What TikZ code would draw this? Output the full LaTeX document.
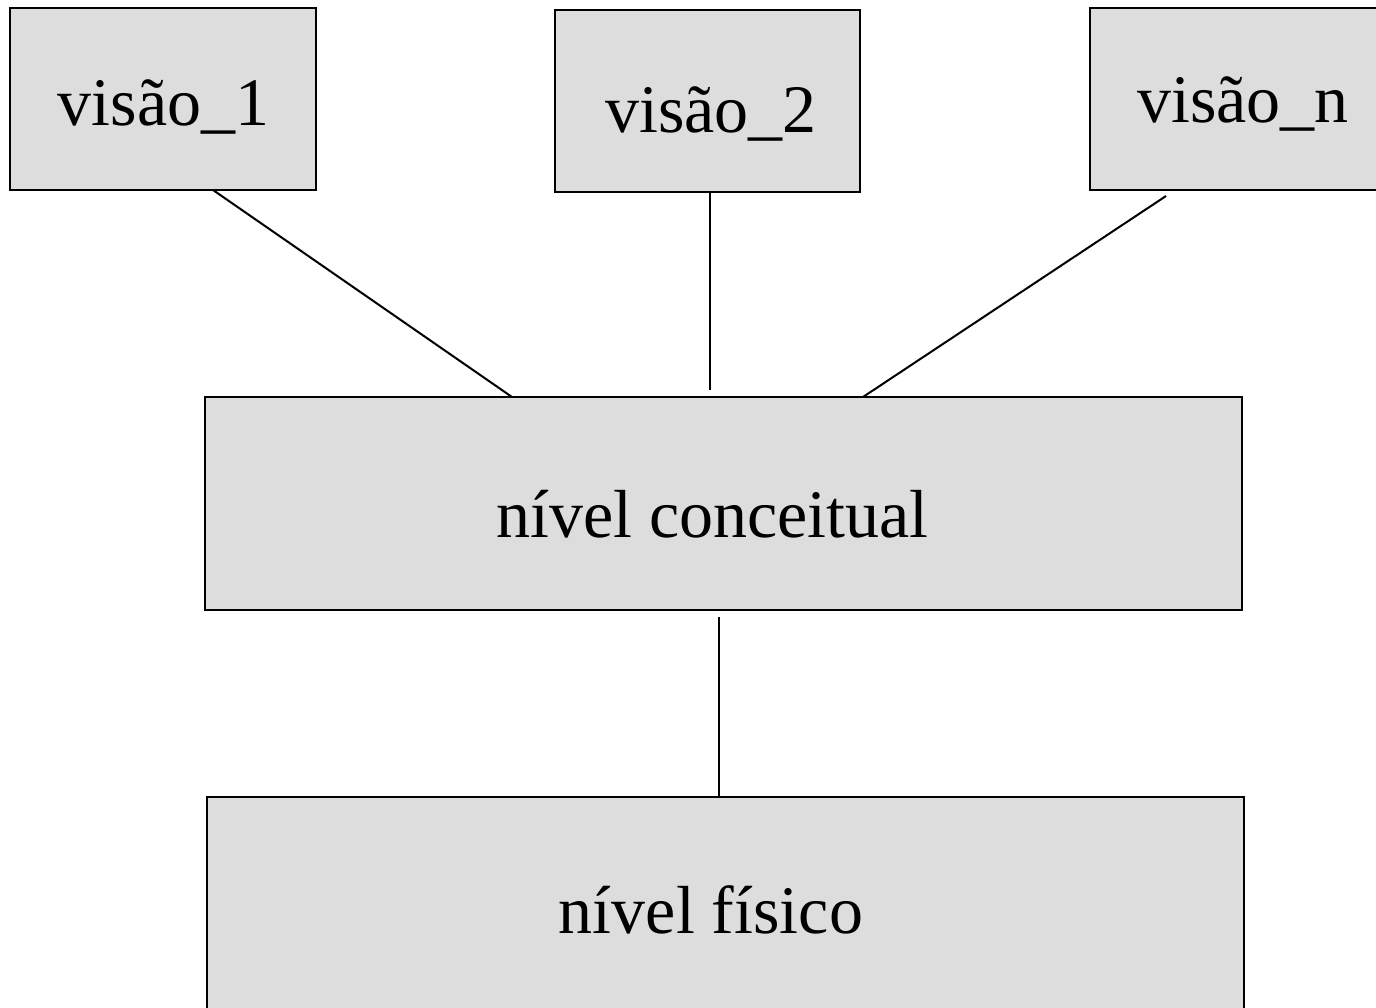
\documentclass[tikz,border=0pt]{standalone}
\usepackage{fontspec}
\setmainfont{Liberation Serif}
\definecolor{boxgray}{RGB}{221,221,221}
\begin{document}
\begin{tikzpicture}[x=1pt,y=-1pt,
  box/.style={draw=black,fill=boxgray,line width=2pt,rectangle,inner sep=0pt,outer sep=0pt},
  lbl/.style={anchor=base,inner sep=0pt,font=\fontsize{68}{72}\selectfont},
  conn/.style={line width=2pt}]
\useasboundingbox (0,0) rectangle (1376,1007);
\begin{scope}
\clip (0,0) rectangle (1376,1007);
\node[box,minimum width=306pt,minimum height=182pt] (v1) at (163,99) {};
\node[box,minimum width=305pt,minimum height=182pt] (v2) at (707.5,101) {};
\node[box,minimum width=306pt,minimum height=182pt] (vn) at (1243,99) {};
\node[box,minimum width=1037pt,minimum height=213pt] (nc) at (723.5,503.5) {};
\node[box,minimum width=1037pt,minimum height=213pt] (nf) at (725.5,903.5) {};
\end{scope}
\node[lbl] (t1) at (163.5,125) {visão\_1};
\node[lbl] (t2) at (711,132) {visão\_2};
\node[lbl] (tn) at (1243,122) {visão\_n};
\node[lbl] (tc) at (712.5,537) {nível conceitual};
\node[lbl] (tf) at (711,933) {nível físico};
\draw[conn] ([xshift=50pt]v1.south) -- ([xshift=-211.5pt]nc.north);
\draw[conn] ([xshift=2.5pt]v2.south) -- ([xshift=-13.5pt,yshift=7pt]nc.north);
\draw[conn] ([xshift=-77pt,yshift=-6pt]vn.south) -- ([xshift=139.5pt]nc.north);
\draw[conn] ([xshift=-4.5pt,yshift=-7pt]nc.south) -- ([xshift=-6.5pt]nf.north);
\end{tikzpicture}
\end{document}
